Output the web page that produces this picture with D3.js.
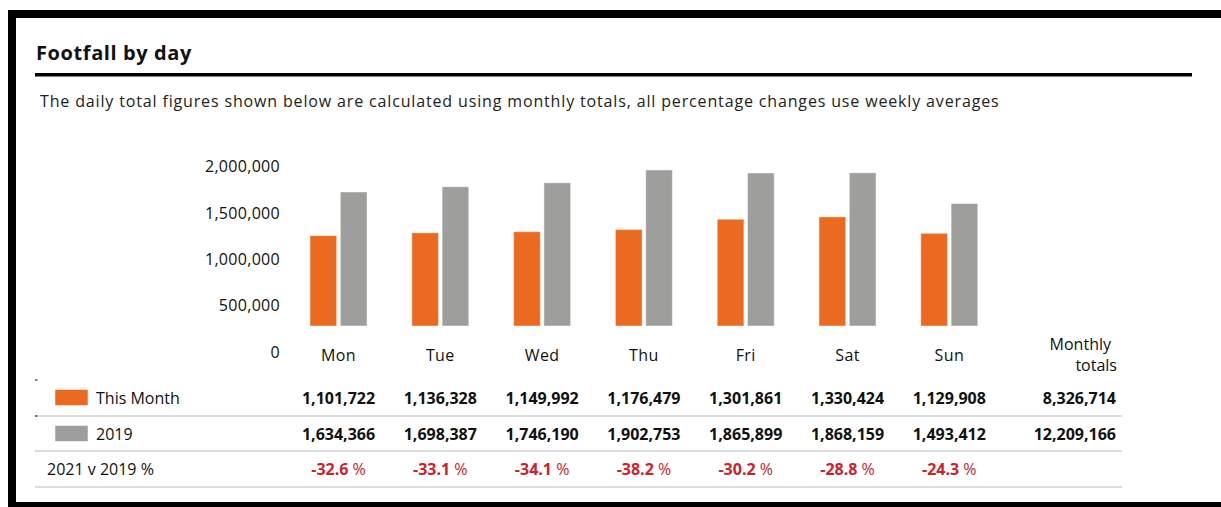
<!DOCTYPE html>
<html>
<head>
<meta charset="utf-8">
<script src="https://cdn.jsdelivr.net/npm/d3@7"></script>
<style>
  body { margin: 0; background: #fff; }
  svg { display: block; font-family: "Open Sans", sans-serif; }
</style>
</head>
<body>
<div id="chart"></div>
<script>
// values
var days = ['Mon', 'Tue', 'Wed', 'Thu', 'Fri', 'Sat', 'Sun'];
var series = ['This Month', '2019'];
var thisMonth = [1101722, 1136328, 1149992, 1176479, 1301861, 1330424, 1129908];
var lastYear = [1634366, 1698387, 1746190, 1902753, 1865899, 1868159, 1493412];
var pctChange = [-32.6, -33.1, -34.1, -38.2, -30.2, -28.8, -24.3];
var monthlyTotals = [8326714, 12209166];
var yTicks = [0, 500000, 1000000, 1500000, 2000000];

var W = 1221, H = 507;
var colors = { 'This Month': '#ec6a1f', '2019': '#9e9e9c' };
var fmt = d3.format(',');

var svg = d3.select('#chart').append('svg')
  .attr('width', W)
  .attr('height', H);

// frame
svg.append('rect').attr('x', 8).attr('y', 10).attr('width', W - 8).attr('height', 8).attr('fill', '#000');
svg.append('rect').attr('x', 8).attr('y', 10).attr('width', 8).attr('height', H - 10).attr('fill', '#000');
svg.append('rect').attr('x', 8).attr('y', 502).attr('width', W - 8).attr('height', 5).attr('fill', '#000');

// title
svg.append('text')
  .attr('x', 36).attr('y', 60)
  .attr('font-size', 20).attr('font-weight', 'bold').attr('fill', '#111')
  .attr('letter-spacing', 0.6)
  .text('Footfall by day');
svg.append('rect').attr('x', 35).attr('y', 73).attr('width', 1157).attr('height', 3.5).attr('fill', '#000');

svg.append('text')
  .attr('x', 40).attr('y', 107)
  .attr('font-size', 16).attr('fill', '#222')
  .attr('letter-spacing', 0.85)
  .text('The daily total figures shown below are calculated using monthly totals, all percentage changes use weekly averages');

// scales
var x0 = d3.scaleBand().domain(days).range([287.6, 1000.2]);
var x1 = d3.scaleBand().domain(series).range([-28.5, 28.5]).paddingInner(0.12);
var y = d3.scaleLinear().domain([0, 2000000]).range([326, 162]);
// the axis labels sit on their own spacing in the original
var yLabel = d3.scaleLinear().domain([0, 2000000]).range([352, 166.5]);

var rows = days.map(function(d, i) {
  return { day: d, values: [thisMonth[i], lastYear[i]], pct: pctChange[i] };
});

var groups = svg.append('g').selectAll('g.day').data(rows).enter()
  .append('g')
  .attr('class', 'day')
  .attr('transform', function(d) { return 'translate(' + (x0(d.day) + x0.bandwidth() / 2) + ',0)'; });

groups.selectAll('rect').data(function(d) {
    return series.map(function(s, j) { return { key: s, value: d.values[j] }; });
  }).enter()
  .append('rect')
  .attr('x', function(d) { return x1(d.key); })
  .attr('width', x1.bandwidth())
  .attr('y', function(d) { return y(d.value); })
  .attr('height', function(d) { return y(0) - y(d.value); })
  .attr('fill', function(d) { return colors[d.key]; })
  .attr('stroke', 'rgba(255,255,255,0.45)')
  .attr('stroke-width', 1);

// y labels
var yAxis = svg.append('g')
  .attr('transform', 'translate(283,0)')
  .call(d3.axisLeft(yLabel).tickValues(yTicks).tickSize(0).tickFormat(fmt))
  .attr('font-family', null);
yAxis.select('.domain').remove();
yAxis.selectAll('text').attr('font-size', 16).attr('fill', '#111').attr('letter-spacing', 0.3);

// day labels
var xAxis = svg.append('g')
  .attr('transform', 'translate(0,355)')
  .call(d3.axisBottom(x0).tickSize(0))
  .attr('font-family', null);
xAxis.select('.domain').remove();
xAxis.selectAll('text').attr('y', 0).attr('dy', '0.35em')
  .attr('font-size', 16).attr('fill', '#111').attr('letter-spacing', 0.4);

svg.append('text').attr('x', 1111).attr('y', 350).attr('text-anchor', 'end')
  .attr('font-size', 16).attr('fill', '#111').text('Monthly');
svg.append('text').attr('x', 1117).attr('y', 371).attr('text-anchor', 'end')
  .attr('font-size', 16).attr('fill', '#111').text('totals');

// table
var rowY = [398, 434, 469];
var lineY = [416, 451, 487];
lineY.forEach(function(ly) {
  svg.append('line').attr('x1', 35).attr('x2', 1122).attr('y1', ly).attr('y2', ly)
    .attr('stroke', '#d2d2d2').attr('stroke-width', 1.5);
});
[380, 416].forEach(function(ty) {
  svg.append('line').attr('x1', 35).attr('x2', 37.5).attr('y1', ty).attr('y2', ty)
    .attr('stroke', '#333').attr('stroke-width', 1.2);
});

series.forEach(function(s, j) {
  svg.append('rect').attr('x', 55).attr('y', rowY[j] - 8.5).attr('width', 33).attr('height', 16)
    .attr('fill', colors[s]).attr('stroke', 'rgba(255,255,255,0.5)');
  svg.append('text').attr('x', 96).attr('y', rowY[j]).attr('dy', '0.35em')
    .attr('font-size', 16).attr('fill', '#111').text(s);
});
svg.append('text').attr('x', 47).attr('y', rowY[2]).attr('dy', '0.35em')
  .attr('font-size', 16).attr('fill', '#111').text('2021 v 2019 %');

groups.each(function(d) {
  var g = d3.select(this);
  d.values.forEach(function(v, j) {
    g.append('text').attr('y', rowY[j]).attr('dy', '0.35em')
      .attr('text-anchor', 'middle').attr('font-size', 16).attr('font-weight', 'bold')
      .attr('fill', '#111').text(fmt(v));
  });
  var t = g.append('text').attr('y', rowY[2]).attr('dy', '0.35em')
    .attr('text-anchor', 'middle').attr('font-size', 16).attr('fill', '#d0202a');
  t.append('tspan').attr('font-weight', 'bold').text(d.pct.toFixed(1));
  t.append('tspan').text(' %');
});

monthlyTotals.forEach(function(v, j) {
  svg.append('text').attr('x', 1116).attr('y', rowY[j]).attr('dy', '0.35em')
    .attr('text-anchor', 'end').attr('font-size', 16).attr('font-weight', 'bold')
    .attr('fill', '#111').text(fmt(v));
});
</script>
</body>
</html>
